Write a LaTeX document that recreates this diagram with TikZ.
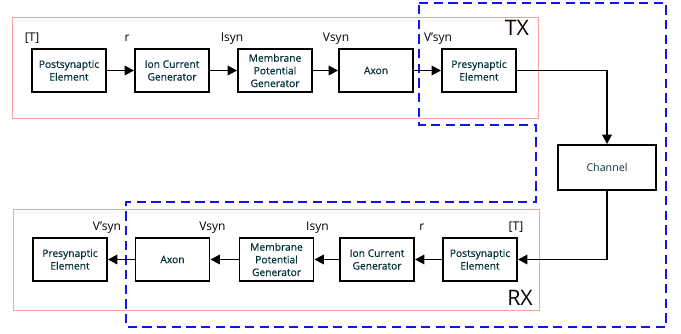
\documentclass[tikz,border=0pt]{standalone}
\usepackage{fontspec}
\setmainfont{Open Sans}
\newfontfamily\boxfont[FakeBold=0.6]{Open Sans}
\usetikzlibrary{arrows.meta}
\definecolor{boxtext}{RGB}{5,50,60}
\definecolor{pinkline}{RGB}{246,160,160}
\definecolor{regionblue}{RGB}{20,20,240}
\begin{document}
\begin{tikzpicture}[x=0.75pt, y=-0.75pt,
    block/.style={draw=black, line width=1.4pt, fill=white, align=center,
        text=boxtext, minimum width=55.5pt, minimum height=32.25pt, inner sep=1pt,
        font=\boxfont\fontsize{7.7}{9.5}\selectfont},
    sig/.style={font=\fontsize{9}{10}\selectfont, inner sep=0pt},
    arr/.style={-{Triangle[length=7pt,width=7pt]}, line width=1.4pt},
    region/.style={regionblue, line width=1.6pt, dash pattern=on 7pt off 4pt}]
    \useasboundingbox (0,0) rectangle (681,333);

    % Boundaries of the two neurons
    \draw[pinkline, line width=0.75pt] (12,17) rectangle (538,118);
    \draw[pinkline, line width=0.75pt] (13,209) rectangle (539,310);

    % Dashed region spanning TX and RX
    \draw[region] (419,3) -- (666,3) -- (666,327) -- (126,327) -- (126,202)
        -- (536,202) -- (536,125) -- (419,125) -- cycle;

    \node[font=\fontsize{16}{18}\selectfont] (tx) at (517,28) {TX};
    \node[font=\fontsize{16}{18}\selectfont] (rx) at (520,298) {RX};

    % Transmitting side
    \node[block] (post1) at (69,70.5) {Postsynaptic\\Element};
    \node[block] (ion1) at (172,70.5) {Ion Current\\Generator};
    \node[block] (mem1) at (275,70.5) {Membrane\\Potential\\Generator};
    \node[block] (axon1) at (376,70.5) {Axon};
    \node[block] (pre1) at (479,70.5) {Presynaptic\\Element};

    \node[sig, anchor=base] (sT1) at ([shift={(1,-7)}]post1.north west) {[T]};
    \node[sig, anchor=base] (sr1) at ([shift={(-7,-7)}]ion1.north west) {r};
    \node[sig, anchor=base] (sI1) at ([shift={(-5,-7)}]mem1.north west) {Isyn};
    \node[sig, anchor=base] (sV1) at ([shift={(-2,-7)}]axon1.north west) {Vsyn};
    \node[sig, anchor=base] (sW1) at ([shift={(-3,-7)}]pre1.north west) {V'syn};

    \draw[arr] (post1) -- (ion1);
    \draw[arr] (ion1) -- (mem1);
    \draw[arr] (mem1) -- (axon1);
    \draw[arr] (axon1) -- (pre1);

    % Receiving side
    \node[block] (pre2) at (70,259.5) {Presynaptic\\Element};
    \node[block] (axon2) at (172.5,259.5) {Axon};
    \node[block] (mem2) at (276.5,259.5) {Membrane\\Potential\\Generator};
    \node[block] (ion2) at (377,259.5) {Ion Current\\Generator};
    \node[block] (post2) at (480,259.5) {Postsynaptic\\Element};

    \node[sig, anchor=base] (sW2) at ([shift={(-1,-7)}]pre2.north east) {V'syn};
    \node[sig, anchor=base] (sV2) at ([shift={(2,-7)}]axon2.north east) {Vsyn};
    \node[sig, anchor=base] (sI2) at ([shift={(3,-7)}]mem2.north east) {Isyn};
    \node[sig, anchor=base] (sr2) at ([shift={(7,-7)}]ion2.north east) {r};
    \node[sig, anchor=base] (sT2) at ([shift={(-2,-7)}]post2.north east) {[T]};

    \draw[arr] (post2) -- (ion2);
    \draw[arr] (ion2) -- (mem2);
    \draw[arr] (mem2) -- (axon2);
    \draw[arr] (axon2) -- (pre2);

    % Channel between the two
    \node[block, minimum width=73.5pt, minimum height=33.75pt,
        font=\fontsize{8}{9.5}\selectfont] (chan) at (607,167.5) {Channel};
    \draw[arr] (pre1.east) -| (chan.north);
    \draw[arr] (chan.south) |- (post2.east);
\end{tikzpicture}
\end{document}
